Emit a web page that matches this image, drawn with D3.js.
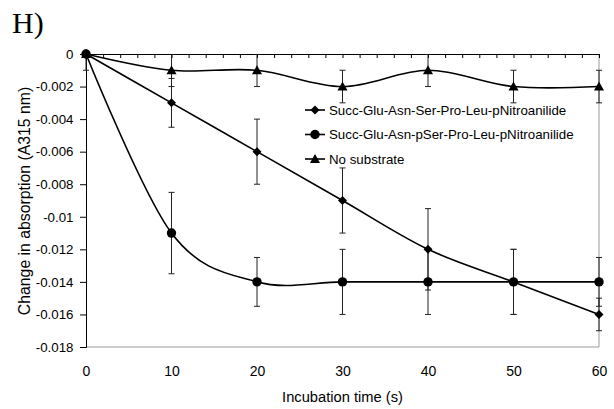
<!DOCTYPE html>
<html>
<head>
<meta charset="utf-8">
<script src="https://cdn.jsdelivr.net/npm/d3@7"></script>
<style>
  html, body { margin: 0; padding: 0; background: #fff; }
  svg { display: block; font-family: "Liberation Sans", Arial, sans-serif; }
</style>
</head>
<body>
<svg id="chart" width="614" height="409"></svg>
<script>
// Incubation times (s)
const times = [0, 10, 20, 30, 40, 50, 60];

// Absorbance change at 315 nm, with standard deviations
const serVals  = [0, -0.003, -0.006, -0.009, -0.012, -0.014, -0.016];
const serErr   = [0, 0.0015, 0.002, 0.002, 0.0025, 0.002, 0.001];
const pSerVals = [0, -0.011, -0.014, -0.014, -0.014, -0.014, -0.014];
const pSerErr  = [0, 0.0025, 0.0015, 0.002, 0.002, 0.002, 0.0015];
const noSubVals = [0, -0.001, -0.001, -0.002, -0.001, -0.002, -0.002];
const noSubErr  = [0.001, 0.001, 0.001, 0.001, 0.001, 0.001, 0.001];

const seriesNames = [
  "Succ-Glu-Asn-Ser-Pro-Leu-pNitroanilide",
  "Succ-Glu-Asn-pSer-Pro-Leu-pNitroanilide",
  "No substrate"
];
const seriesShapes = ["diamond", "circle", "triangle"];

const xTickValues = [0, 10, 20, 30, 40, 50, 60];
const yTickValues = [0, -0.002, -0.004, -0.006, -0.008, -0.01, -0.012, -0.014, -0.016, -0.018];
const yTickLabels = ["0", "-0.002", "-0.004", "-0.006", "-0.008", "-0.01", "-0.012", "-0.014", "-0.016", "-0.018"];

const series = [
  { name: seriesNames[0], shape: seriesShapes[0], vals: serVals,   err: serErr },
  { name: seriesNames[1], shape: seriesShapes[1], vals: pSerVals,  err: pSerErr },
  { name: seriesNames[2], shape: seriesShapes[2], vals: noSubVals, err: noSubErr }
];

const svg = d3.select("#chart");
const plotLeft = 86, plotRight = 599, plotTop = 54, plotBottom = 347;

const x = d3.scaleLinear().domain([0, 60]).range([plotLeft, plotRight]);
const y = d3.scaleLinear().domain([-0.018, 0]).range([plotBottom, plotTop]);

// Panel letter
svg.append("text")
  .attr("x", 12).attr("y", 33)
  .attr("font-family", "'Liberation Serif', 'Times New Roman', serif")
  .attr("font-size", 30)
  .text("H)");

// Plot frame (right and bottom edges)
svg.append("path")
  .attr("d", `M${plotRight},${plotTop}V${plotBottom}H${plotLeft}`)
  .attr("fill", "none").attr("stroke", "#9a9a9a").attr("stroke-width", 1);

// Clip for error bars
svg.append("clipPath").attr("id", "plotClip")
  .append("rect").attr("x", plotLeft - 10).attr("y", plotTop)
  .attr("width", plotRight - plotLeft + 20).attr("height", plotBottom - plotTop);

// Y axis
const yAxis = svg.append("g")
  .attr("transform", `translate(${plotLeft},0)`)
  .call(d3.axisLeft(y).tickValues(yTickValues)
    .tickFormat((d, i) => yTickLabels[i]).tickSize(6).tickPadding(6.5));
yAxis.select(".domain").attr("stroke", "#000");
yAxis.selectAll("text").attr("font-size", 13.3).attr("font-family", "'Liberation Sans', Arial, sans-serif").attr("fill", "#000");

// X axis line at y = 0 with inward minor ticks
const xMinor = d3.range(0, 61, 2);
const xAxisTop = svg.append("g")
  .attr("transform", `translate(0,${y(0)})`)
  .call(d3.axisBottom(x).tickValues(xMinor).tickFormat("").tickSizeInner(4).tickSizeOuter(0));
xAxisTop.select(".domain").attr("stroke", "#000");

// X tick labels along the bottom
const xAxisBottom = svg.append("g")
  .attr("transform", `translate(0,${plotBottom})`)
  .call(d3.axisBottom(x).tickValues(xTickValues).tickSize(0).tickPadding(19.5));
xAxisBottom.select(".domain").remove();
xAxisBottom.selectAll("text").attr("font-size", 14).attr("font-family", "'Liberation Sans', Arial, sans-serif").attr("fill", "#000");

// Axis titles
svg.append("text")
  .attr("x", (plotLeft + plotRight) / 2).attr("y", 402)
  .attr("text-anchor", "middle").attr("font-size", 14.7)
  .text("Incubation time (s)");
svg.append("text")
  .attr("transform", `translate(30,${(plotTop + plotBottom) / 2 + 0.5}) rotate(-90)`)
  .attr("text-anchor", "middle").attr("font-size", 15.8)
  .text("Change in absorption (A315 nm)");

// Marker shapes
function markerPath(shape) {
  if (shape === "diamond") return "M0,-4.5L4.5,0L0,4.5L-4.5,0Z";
  if (shape === "triangle") return "M0,-5L5,4L-5,4Z";
  return d3.arc()({ innerRadius: 0, outerRadius: 4.7, startAngle: 0, endAngle: 2 * Math.PI });
}

const line = d3.line()
  .x((d, i) => x(times[i]))
  .y(d => y(d))
  .curve(d3.curveCardinal.tension(0));

// Error bars
const errG = svg.append("g").attr("clip-path", "url(#plotClip)");
series.forEach(s => {
  s.vals.forEach((v, i) => {
    const e = s.err[i];
    if (!e) return;
    const cx = x(times[i]);
    const y1 = y(v + e), y2 = y(v - e);
    errG.append("path")
      .attr("d", `M${cx},${y1}V${y2}M${cx - 3},${y1}H${cx + 3}M${cx - 3},${y2}H${cx + 3}`)
      .attr("fill", "none").attr("stroke", "#222").attr("stroke-width", 1);
  });
});

// Lines and markers
series.forEach(s => {
  svg.append("path")
    .attr("d", line(s.vals))
    .attr("fill", "none").attr("stroke", "#000").attr("stroke-width", 1.6);
  s.vals.forEach((v, i) => {
    svg.append("path")
      .attr("transform", `translate(${x(times[i])},${y(v)})`)
      .attr("d", markerPath(s.shape))
      .attr("fill", "#000");
  });
});

// Legend
const legend = svg.append("g");
series.forEach((s, i) => {
  const ly = 110 + i * 24.5;
  legend.append("line")
    .attr("x1", 305).attr("x2", 325).attr("y1", ly).attr("y2", ly)
    .attr("stroke", "#000").attr("stroke-width", 1.6);
  legend.append("path")
    .attr("transform", `translate(315,${ly})`)
    .attr("d", markerPath(s.shape)).attr("fill", "#000");
  legend.append("text")
    .attr("x", 329).attr("y", ly).attr("dy", "0.35em")
    .attr("font-size", 13.3)
    .text(s.name);
});
</script>
</body>
</html>
